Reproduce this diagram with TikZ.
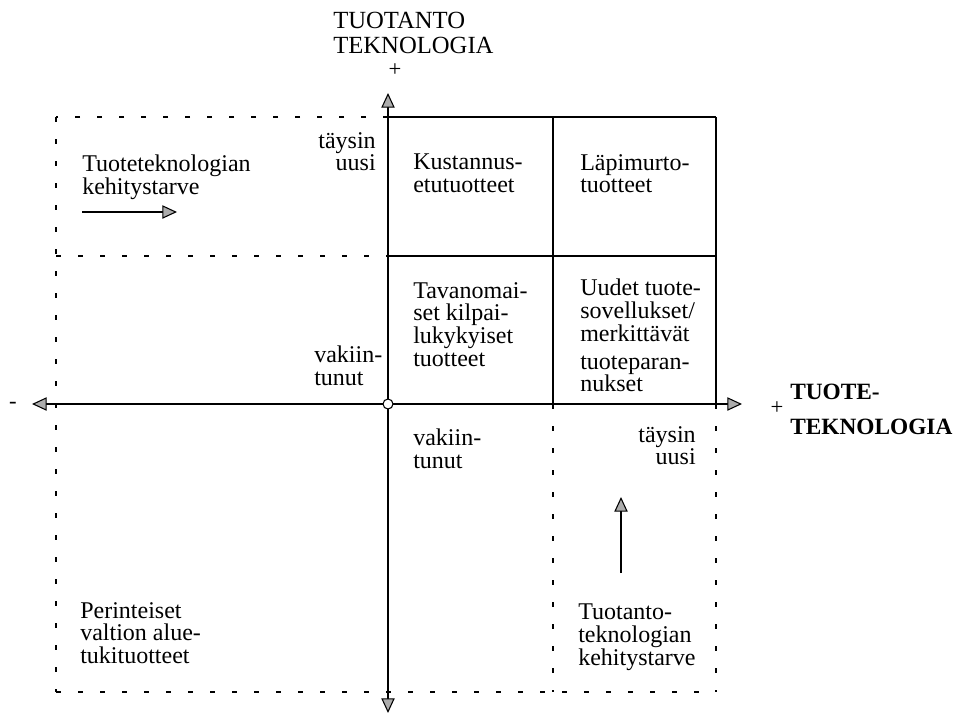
\documentclass[tikz,border=0pt]{standalone}
\usepackage{fontspec}
\setmainfont{Liberation Serif}
\usepackage{tikz}
\usetikzlibrary{arrows.meta}
\pgfdeclarelayer{edgelayer}
\pgfdeclarelayer{nodelayer}
\pgfsetlayers{edgelayer,nodelayer,main}
\tikzstyle{edge}=[draw=black, line width=1.1pt]
\tikzstyle{dashedge}=[draw=black, line width=1pt, dash pattern=on 3.5pt off 13pt]
\tikzstyle{axis}=[draw=black, line width=1.5pt, {Triangle[fill=gray!65, length=11pt, width=10pt, line width=0.8pt]}-{Triangle[fill=gray!65, length=11pt, width=10pt, line width=0.8pt]}]
\tikzstyle{pointer}=[draw=black, line width=1pt, -{Triangle[fill=gray!65, length=11pt, width=10pt, line width=0.8pt]}]
\tikzstyle{vertex}=[circle, fill=white, draw=black, line width=0.8pt, inner sep=0pt, minimum size=7.5pt]
\tikzstyle{txt}=[inner sep=0pt, align=left, anchor=north west, font=\fontsize{18}{17}\selectfont]
\tikzstyle{rtxt}=[inner sep=0pt, align=right, anchor=north east, font=\fontsize{18}{17}\selectfont]
\tikzstyle{title}=[inner sep=0pt, align=left, anchor=north west, font=\fontsize{18.5}{18.75}\selectfont]

\begin{document}
\begin{tikzpicture}[x=0.75pt, y=-0.75pt]
				\useasboundingbox (0,0) rectangle (957,714);
				\begin{pgfonlayer}{nodelayer}
					\node [style=vertex] (0) at (388, 404) {};
					\coordinate (1) at (32, 404);
					\coordinate (2) at (742, 404);
					\coordinate (3) at (388, 93);
					\coordinate (4) at (388, 713);
					\coordinate (5) at (716, 117);
					\coordinate (6) at (716, 404);
					\coordinate (7) at (553, 117);
					\coordinate (8) at (553, 404);
					\coordinate (9) at (388, 256);
					\coordinate (10) at (716, 256);
					\coordinate (11) at (388, 117);
					\coordinate (12) at (56, 117);
					\coordinate (13) at (56, 692);
					\coordinate (14) at (716, 692);
					\coordinate (15) at (553, 692);
					\coordinate (16) at (56, 256);
					\coordinate (17) at (82, 212);
					\coordinate (18) at (177, 212);
					\coordinate (19) at (621, 573);
					\coordinate (20) at (621, 497);
					\node [style=title] (21) at (333, 12) {TUOTANTO\\TEKNOLOGIA};
					\node (22) at (395, 70) {\fontsize{17}{17}\selectfont +};
					\node (23) at (13, 405) {\fontsize{17}{17}\selectfont -};
					\node (24) at (777, 408) {\fontsize{17}{17}\selectfont +};
					\node [style=title, font=\fontsize{17.5}{26.25}\selectfont\bfseries] (25) at (790, 384) {TUOTE-\\TEKNOLOGIA};
					\node [style=rtxt] (26) at (376, 132) {täysin\\uusi};
					\node [style=txt] (27) at (82, 155) {Tuoteteknologian\\kehitystarve};
					\node [style=txt] (28) at (413, 154) {Kustannus-\\etutuotteet};
					\node [style=txt] (29) at (580, 154) {Läpimurto-\\tuotteet};
					\node [style=txt] (30) at (413, 282) {Tavanomai-\\set kilpai-\\lukykyiset\\tuotteet};
					\node [style=txt] (31) at (580, 279) {Uudet tuote-\\sovellukset/\\merkittävät\\[4pt]tuoteparan-\\nukset};
					\node [style=txt] (32) at (314, 346) {vakiin-\\tunut};
					\node [style=txt] (33) at (413, 429) {vakiin-\\tunut};
					\node [style=rtxt] (34) at (696, 426) {täysin\\uusi};
					\node [style=txt] (35) at (80, 602) {Perinteiset\\valtion alue-\\tukituotteet};
					\node [style=txt] (36) at (578, 604) {Tuotanto-\\teknologian\\kehitystarve};
				\end{pgfonlayer}
				\begin{pgfonlayer}{edgelayer}
					\draw [style=axis] (1) to (2);
					\draw [style=axis] (4) to (3);
					\draw [style=edge] (11) to (5);
					\draw [style=edge] (5) to (6);
					\draw [style=edge] (7) to (8);
					\draw [style=edge] (9) to (10);
					\draw [style=dashedge] (11) to (12);
					\draw [style=dashedge] (12) to (13);
					\draw [style=dashedge] (13) to (14);
					\draw [style=dashedge] (6) to (14);
					\draw [style=dashedge] (8) to (15);
					\draw [style=dashedge] (16) to (9);
					\draw [style=pointer] (17) to (18);
					\draw [style=pointer] (19) to (20);
				\end{pgfonlayer}
			\end{tikzpicture}
\end{document}
